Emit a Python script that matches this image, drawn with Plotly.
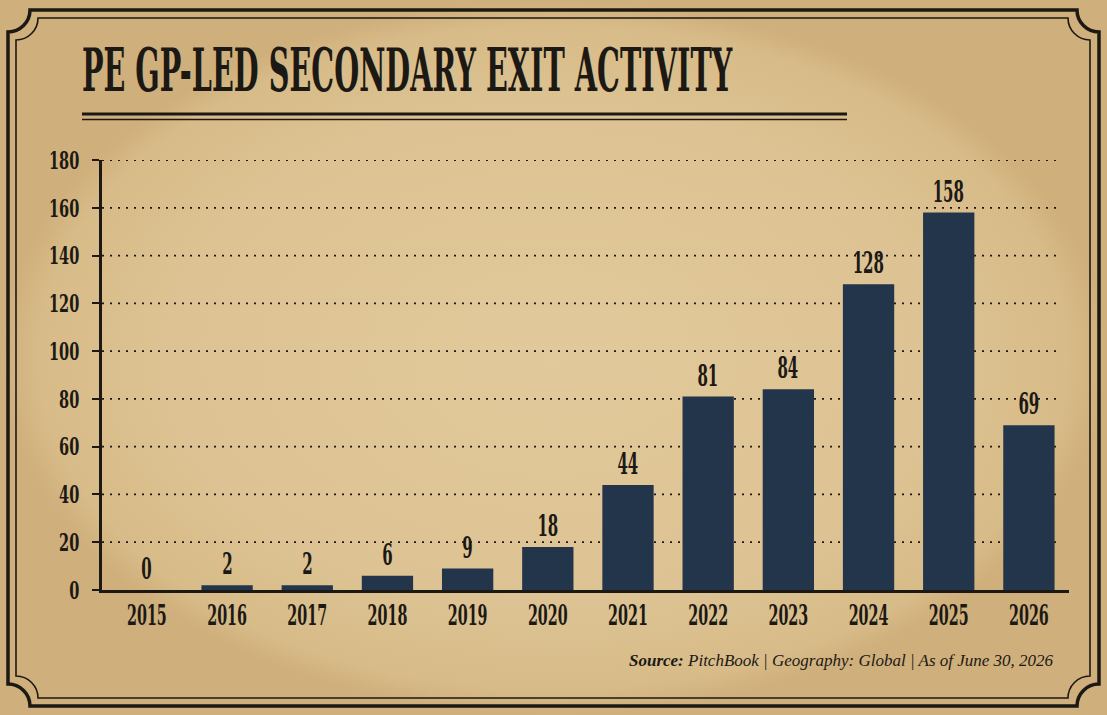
import json
import plotly.graph_objects as go

years = ["2015", "2016", "2017", "2018", "2019", "2020",
         "2021", "2022", "2023", "2024", "2025", "2026"]
exits = [0, 2, 2, 6, 9, 18, 44, 81, 84, 128, 158, 69]
y_ticks = [0, 20, 40, 60, 80, 100, 120, 140, 160, 180]

W, H = 1107, 715
# plot area of the bar chart, in pixels
PL, PR, PT, PB = 102, 1069, 160, 590
X_RANGE = [-0.56, 11.5]
GRID_END = 1056  # dotted grid stops a little short of the axis end

INK = "#1c1915"
NAVY = "#22354a"
HEAD = "DejaVu Serif, serif"

# the original lettering is very condensed:
# font size -> horizontal squeeze (ticks, value labels)
SQUEEZE = {30: 0.5, 27: 0.53, 25: 0.58}
# font size -> vertical stretch (title)
STRETCH = {29: 2.08}


def xp(px):
    return px / W


def yp(py):
    return 1 - py / H


def frame_path(x0, y0, x1, y1, r):
    # rectangle with concave quarter-circle corners, in paper coords
    k = 0.552 * r

    def P(x, y):
        return f"{xp(x):.5f},{yp(y):.5f}"

    return (f"M {P(x0 + r, y0)} L {P(x1 - r, y0)} "
            f"C {P(x1 - r, y0 + k)} {P(x1 - k, y0 + r)} {P(x1, y0 + r)} "
            f"L {P(x1, y1 - r)} "
            f"C {P(x1 - k, y1 - r)} {P(x1 - r, y1 - k)} {P(x1 - r, y1)} "
            f"L {P(x0 + r, y1)} "
            f"C {P(x0 + r, y1 - k)} {P(x0 + k, y1 - r)} {P(x0, y1 - r)} "
            f"L {P(x0, y0 + r)} "
            f"C {P(x0 + k, y0 + r)} {P(x0 + r, y0 + k)} {P(x0 + r, y0)} Z")


fig = go.Figure()

# parchment: light in the middle, a little browner towards the edges
fig.add_trace(go.Scatter(
    x=[0, W, W, 0, 0], y=[0, 0, H, H, 0],
    mode="lines", fill="toself", line=dict(width=0),
    fillgradient=dict(type="radial",
                      colorscale=[[0, "#e2c99b"], [0.7, "#ddc393"],
                                  [0.93, "#d7bb88"], [1, "#cfaf7b"]]),
    hoverinfo="skip", xaxis="x", yaxis="y",
))

fig.add_trace(go.Bar(
    x=years, y=exits,
    marker=dict(color=NAVY, line=dict(width=0)),
    width=0.64,
    hoverinfo="x+y", xaxis="x2", yaxis="y2",
))

# value labels above the bars
for i, v in enumerate(exits):
    fig.add_annotation(x=i, y=v, xref="x2", yref="y2", text=str(v),
                       showarrow=False, yanchor="bottom", yshift=2,
                       font=dict(family=HEAD, size=30, color=INK, weight="bold"))

grid_x1 = X_RANGE[0] + (GRID_END - PL) / (PR - PL) * (X_RANGE[1] - X_RANGE[0])
shapes = [
    dict(type="line", xref="x2", yref="y2", layer="below",
         x0=X_RANGE[0], x1=grid_x1, y0=t, y1=t,
         line=dict(color=INK, width=1.8, dash="2px,6px"))
    for t in y_ticks[1:]
]
shapes += [
    dict(type="path", xref="paper", yref="paper",
         path=frame_path(8, 10, 1099, 706, 22),
         line=dict(color=INK, width=3.5)),
    dict(type="path", xref="paper", yref="paper",
         path=frame_path(16, 18, 1090, 698, 22),
         line=dict(color=INK, width=1.6)),
    # double rule under the title
    dict(type="line", xref="paper", yref="paper",
         x0=xp(82), x1=xp(847), y0=yp(114), y1=yp(114),
         line=dict(color=INK, width=3)),
    dict(type="line", xref="paper", yref="paper",
         x0=xp(82), x1=xp(847), y0=yp(119.5), y1=yp(119.5),
         line=dict(color=INK, width=1.5)),
]
fig.update_layout(shapes=shapes)

fig.add_annotation(xref="paper", yref="paper", x=xp(80), y=yp(70),
                   xanchor="left", yanchor="middle", showarrow=False,
                   text="PE GP-LED SECONDARY EXIT ACTIVITY",
                   font=dict(family=HEAD, size=28.7, color=INK, weight="bold"))

fig.add_annotation(xref="paper", yref="paper", x=xp(1056), y=yp(660),
                   xanchor="right", yanchor="middle", showarrow=False,
                   text="<b><i>Source:</i></b><i> PitchBook | Geography: Global | As of June 30, 2026</i>",
                   font=dict(family="Liberation Serif, serif", size=17, color=INK))

fig.update_layout(
    width=W, height=H,
    margin=dict(l=0, r=0, t=0, b=0, pad=0, autoexpand=False),
    paper_bgcolor="#cfaf7b",
    plot_bgcolor="rgba(0,0,0,0)",
    showlegend=False,
    xaxis=dict(domain=[0, 1], range=[0, W], visible=False, fixedrange=True),
    yaxis=dict(domain=[0, 1], range=[H, 0], visible=False, fixedrange=True),
    xaxis2=dict(
        domain=[PL / W, PR / W], anchor="y2",
        type="category", range=X_RANGE,
        showline=True, linecolor=INK, linewidth=2.5,
        showgrid=False, ticks="", ticklabelstandoff=0,
        tickfont=dict(family=HEAD, size=27, color=INK, weight="bold"),
        fixedrange=True,
    ),
    yaxis2=dict(
        domain=[1 - PB / H, 1 - PT / H], anchor="x2",
        range=[0, 180], tickvals=y_ticks,
        showline=True, linecolor=INK, linewidth=2.5,
        ticks="outside", ticklen=7, tickwidth=1.8, tickcolor=INK,
        showgrid=False, zeroline=False, ticklabelstandoff=8,
        tickfont=dict(family=HEAD, size=25, color=INK, weight="bold"),
        fixedrange=True,
    ),
)

post = """
document.body.style.margin = '0';
var gd = document.getElementById('{plot_id}');
var squeeze = %s, stretch = %s;
function condense() {
  gd.querySelectorAll('text').forEach(function (t) {
    if (t.getAttribute('data-cond')) return;
    var s = Math.round(parseFloat(t.style.fontSize));
    var f = squeeze[s], k = stretch[s];
    var bg = t.parentNode.querySelector('rect.bg');
    if (f) {
      var w = t.getComputedTextLength();
      t.setAttribute('textLength', w * f);
      t.setAttribute('lengthAdjust', 'spacingAndGlyphs');
      if (bg) {
        var bw = parseFloat(bg.getAttribute('width'));
        var nw = bw - w * (1 - f);
        bg.setAttribute('width', nw);
        bg.setAttribute('x', parseFloat(bg.getAttribute('x') || 0) + (bw - nw) / 2);
      }
    }
    if (k) {
      var b = t.getBBox(), cy = b.y + b.height / 2;
      var tr = 'translate(0,' + cy + ') scale(1,' + k + ') translate(0,' + (-cy) + ')';
      t.setAttribute('transform', (t.getAttribute('transform') || '') + ' ' + tr);
      if (bg) bg.setAttribute('transform', tr);
    }
    t.setAttribute('data-cond', '1');
  });
}
condense();
gd.on('plotly_afterplot', condense);
""" % (json.dumps(SQUEEZE), json.dumps(STRETCH))

fig.write_html("out.html", post_script=post, config={"displayModeBar": False})
